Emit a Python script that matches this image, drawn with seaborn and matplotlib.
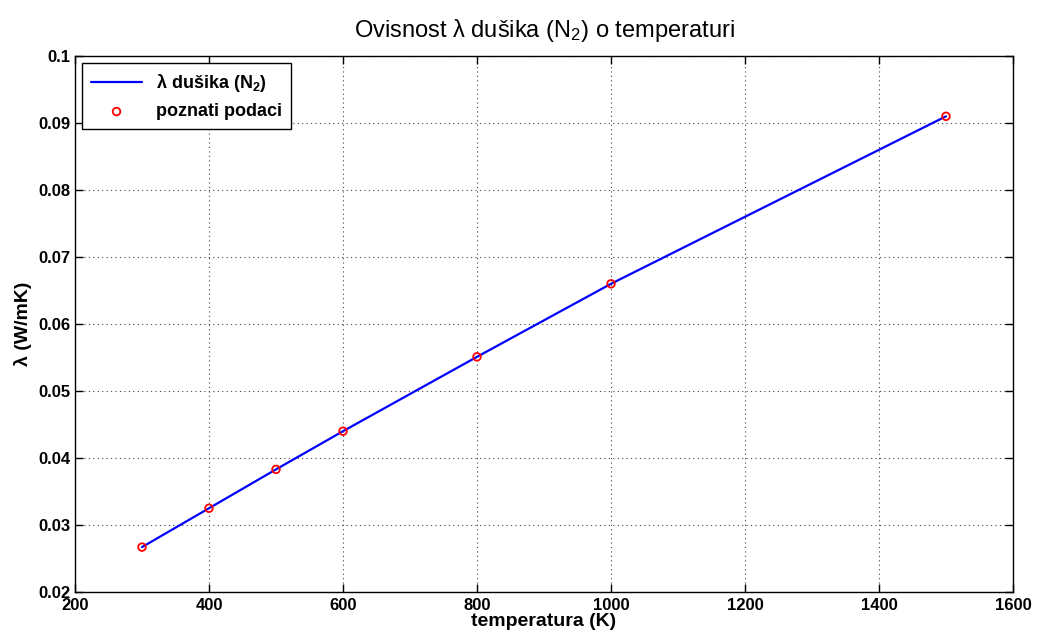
import matplotlib
matplotlib.use("Agg")
import matplotlib.pyplot as plt
import seaborn as sns
import pandas as pd

temperature = [300, 400, 500, 600, 800, 1000, 1500]
conductivity = [0.0267, 0.0325, 0.0383, 0.0440, 0.0551, 0.0660, 0.0910]
xticks = [200, 400, 600, 800, 1000, 1200, 1400, 1600]
yticks = [0.02, 0.03, 0.04, 0.05, 0.06, 0.07, 0.08, 0.09, 0.1]
ytick_labels = ["0.02", "0.03", "0.04", "0.05", "0.06", "0.07", "0.08", "0.09", "0.1"]

sns.set_style("ticks")
plt.rcParams['font.family'] = ['Liberation Sans', 'DejaVu Sans']
plt.rcParams['mathtext.fontset'] = 'custom'
plt.rcParams['mathtext.rm'] = 'Liberation Sans'
plt.rcParams['mathtext.bf'] = 'Liberation Sans:bold'
plt.rcParams['mathtext.default'] = 'regular'
for k in ['text.color', 'axes.labelcolor', 'xtick.color', 'ytick.color']:
    plt.rcParams[k] = 'black'

df = pd.DataFrame({"T": temperature, "k": conductivity})

fig = plt.figure(figsize=(10.39, 6.41), dpi=100)
ax = fig.add_axes([75/1039, 1-592/641, (1013-75)/1039, (592-56)/641])

sns.lineplot(data=df, x="T", y="k", ax=ax, color="#0000ff", linewidth=1.6,
             label="λ dušika (N$_2$)")
sns.scatterplot(data=df, x="T", y="k", ax=ax, marker="o", s=30,
                facecolors="none", edgecolor="#ff0000", linewidth=1.3,
                label="poznati podaci", zorder=3)

ax.set_xlim(200, 1600)
ax.set_ylim(0.02, 0.1)
ax.set_xticks(xticks)
ax.set_xticklabels([str(v) for v in xticks], fontsize=12, fontweight='bold')
ax.set_yticks(yticks)
ax.set_yticklabels(ytick_labels, fontsize=12, fontweight='bold')
ax.tick_params(direction='in', top=True, right=True, length=6, width=1)
ax.tick_params(axis='x', pad=4)
ax.tick_params(axis='y', pad=3)
for s in ax.spines.values():
    s.set_visible(True)
    s.set_linewidth(1)
    s.set_color('black')
ax.grid(True, linestyle=(0, (1, 3)), color='#444444', linewidth=0.8)

ax.set_xlabel("temperatura (K)", fontsize=14, fontweight='bold', labelpad=0)
ax.set_ylabel("λ (W/mK)", fontsize=14, fontweight='bold', labelpad=5)
ax.set_title("Ovisnost λ dušika (N$_2$) o temperaturi", fontsize=17, pad=14)

leg = ax.legend(loc='upper left', frameon=True, fancybox=False, framealpha=1,
                edgecolor='black', prop={'size': 13, 'weight': 'bold'},
                borderaxespad=0.4, handlelength=2.8, borderpad=0.5)
leg.get_frame().set_linewidth(1)

fig.savefig("out.png", dpi=100)
